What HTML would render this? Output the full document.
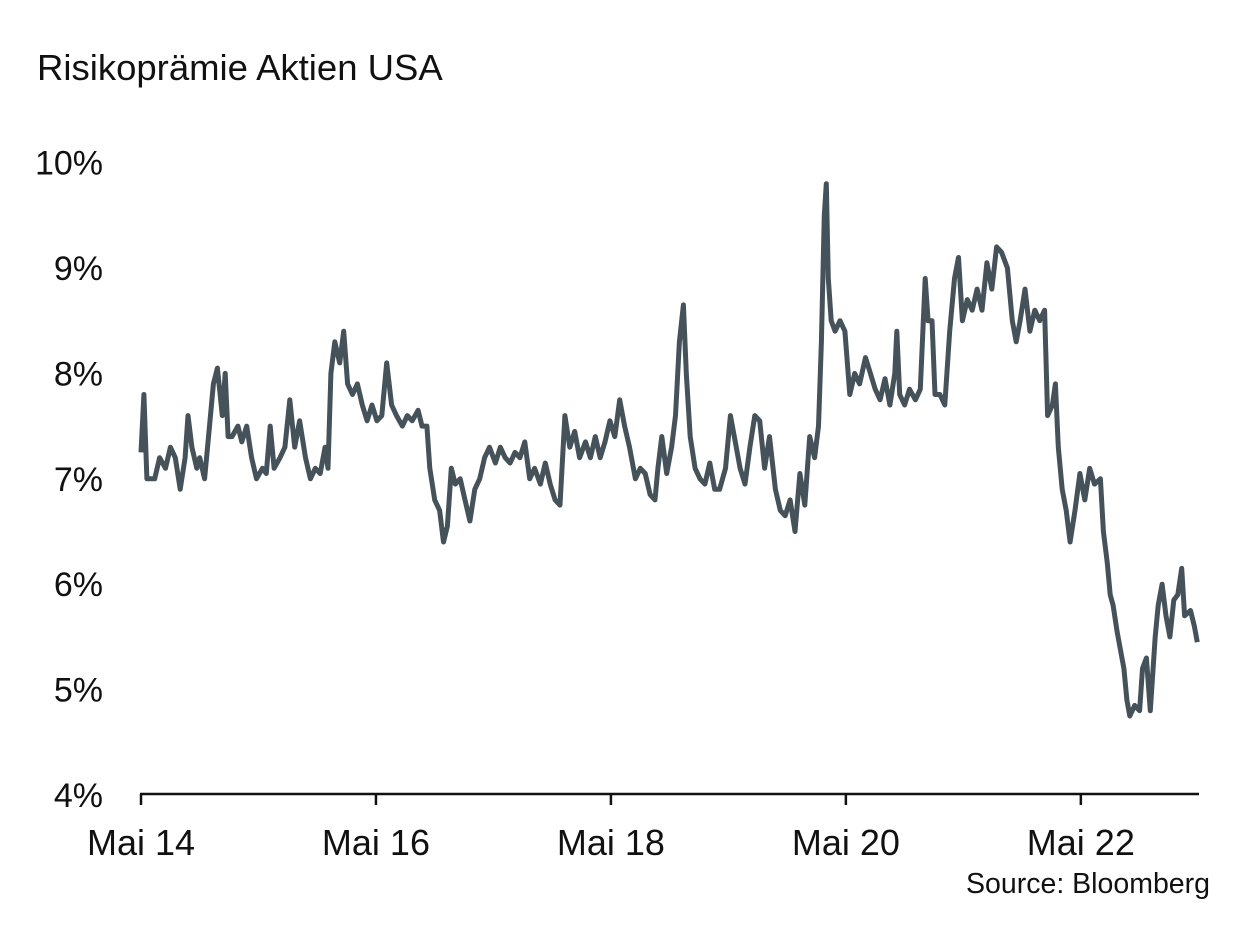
<!DOCTYPE html>
<html><head><meta charset="utf-8"><style>
body{margin:0;background:#fff;}
svg{display:block;font-family:"Liberation Sans",Arial,sans-serif;}
</style></head><body>
<svg id="chart" width="1249" height="949">
<text x="37" y="80" font-size="36.5" fill="#111">Risikoprämie Aktien USA</text>
<text x="1210" y="893" font-size="28.5" fill="#111" text-anchor="end">Source: Bloomberg</text>
<g id="yaxis"></g>
<g id="xaxis"></g>
<path id="line" fill="none" stroke="#46525a" stroke-width="5" stroke-linejoin="round"></path>
</svg>
<script>
const months=[0,0.3,0.6,1.4,1.9,2.5,3.0,3.5,4.0,4.5,4.8,5.2,5.7,6.0,6.5,7.0,7.4,7.8,8.3,8.6,8.9,9.3,9.9,10.3,10.8,11.3,11.8,12.4,12.8,13.2,13.6,14.2,14.7,15.2,15.7,16.2,16.8,17.3,17.8,18.3,18.8,19.1,19.4,19.8,20.3,20.7,21.1,21.6,22.1,22.6,23.1,23.6,24.1,24.6,25.1,25.6,26.1,26.7,27.2,27.7,28.3,28.7,29.2,29.5,30.0,30.5,30.9,31.3,31.7,32.1,32.6,33.1,33.6,34.1,34.6,35.1,35.6,36.2,36.7,37.2,37.7,38.2,38.7,39.2,39.7,40.2,40.8,41.3,41.8,42.3,42.8,43.3,43.8,44.3,44.8,45.4,45.9,46.4,46.9,47.4,47.9,48.4,48.9,49.4,49.9,50.5,51.0,51.5,52.0,52.5,52.8,53.2,53.7,54.2,54.6,55.0,55.4,55.7,56.1,56.6,57.1,57.6,58.1,58.6,59.1,59.7,60.2,60.7,61.2,61.7,62.2,62.7,63.2,63.7,64.2,64.8,65.3,65.8,66.3,66.8,67.3,67.8,68.3,68.8,69.2,69.5,69.8,70.0,70.2,70.5,70.9,71.4,71.9,72.4,72.9,73.4,74.0,74.5,75.0,75.5,76.0,76.5,77.0,77.2,77.5,78.0,78.5,79.1,79.6,80.1,80.4,80.8,81.1,81.6,82.1,82.6,83.1,83.5,83.9,84.4,84.9,85.4,85.9,86.4,86.9,87.4,87.9,88.5,89.0,89.4,89.8,90.3,90.8,91.3,91.8,92.3,92.6,93.1,93.4,93.7,94.1,94.5,94.9,95.4,95.9,96.4,96.9,97.4,98.0,98.3,98.7,99.0,99.3,99.7,100.0,100.4,100.7,101.0,101.5,102.0,102.3,102.7,103.1,103.6,103.9,104.3,104.7,105.1,105.5,105.9,106.3,106.6,107.2,107.6,107.9];
const values=[7.25,7.8,7.0,7.0,7.2,7.1,7.3,7.2,6.9,7.2,7.6,7.3,7.1,7.2,7.0,7.5,7.9,8.05,7.6,8.0,7.4,7.4,7.5,7.35,7.5,7.2,7.0,7.1,7.05,7.5,7.1,7.2,7.3,7.75,7.3,7.55,7.2,7.0,7.1,7.05,7.3,7.1,8.0,8.3,8.1,8.4,7.9,7.8,7.9,7.7,7.55,7.7,7.55,7.6,8.1,7.7,7.6,7.5,7.6,7.55,7.65,7.5,7.5,7.1,6.8,6.7,6.4,6.55,7.1,6.95,7.0,6.8,6.6,6.9,7.0,7.2,7.3,7.15,7.3,7.2,7.15,7.25,7.2,7.35,7.0,7.1,6.95,7.15,6.95,6.8,6.75,7.6,7.3,7.45,7.2,7.35,7.2,7.4,7.2,7.35,7.55,7.4,7.75,7.5,7.3,7.0,7.1,7.05,6.85,6.8,7.1,7.4,7.05,7.3,7.6,8.3,8.65,8.0,7.4,7.1,7.0,6.95,7.15,6.9,6.9,7.1,7.6,7.35,7.1,6.95,7.3,7.6,7.55,7.1,7.4,6.9,6.7,6.65,6.8,6.5,7.05,6.75,7.4,7.2,7.5,8.3,9.5,9.8,8.9,8.5,8.4,8.5,8.4,7.8,8.0,7.9,8.15,8.0,7.85,7.75,7.95,7.7,8.0,8.4,7.8,7.7,7.85,7.75,7.85,8.9,8.5,8.5,7.8,7.8,7.7,8.4,8.9,9.1,8.5,8.7,8.6,8.8,8.6,9.05,8.8,9.2,9.15,9.0,8.5,8.3,8.5,8.8,8.4,8.6,8.5,8.6,7.6,7.7,7.9,7.3,6.9,6.7,6.4,6.7,7.05,6.8,7.1,6.95,7.0,6.5,6.2,5.9,5.8,5.55,5.4,5.2,4.9,4.75,4.85,4.8,5.2,5.3,4.8,5.5,5.8,6.0,5.7,5.5,5.85,5.9,6.15,5.7,5.75,5.6,5.45];
const yTicks=[4,5,6,7,8,9,10];
const xTickMonths=[0,24,48,72,96];
const xTickLabels=["Mai 14","Mai 16","Mai 18","Mai 20","Mai 22"];

const X0=141,PXM=9.79,Y4=795,PXV=105.4;
const sx=m=>X0+m*PXM;
const sy=v=>Y4-(v-4)*PXV;
const NS="http://www.w3.org/2000/svg";
const ya=document.getElementById('yaxis');
yTicks.forEach(t=>{
  const tx=document.createElementNS(NS,'text');
  tx.setAttribute('x',103);tx.setAttribute('y',sy(t)+12);
  tx.setAttribute('text-anchor','end');tx.setAttribute('font-size','34');tx.setAttribute('fill','#111');
  tx.textContent=t+'%';
  
  
  ya.appendChild(tx);
});
const xa=document.getElementById('xaxis');
const ax=document.createElementNS(NS,'line');
ax.setAttribute('x1',X0-1);ax.setAttribute('x2',1199);ax.setAttribute('y1',794);ax.setAttribute('y2',794);
ax.setAttribute('stroke','#111');ax.setAttribute('stroke-width','2.5');


xa.appendChild(ax);
xTickMonths.forEach((m,i)=>{
  const l=document.createElementNS(NS,'line');
  l.setAttribute('x1',sx(m));l.setAttribute('x2',sx(m));l.setAttribute('y1',794);l.setAttribute('y2',805);
  l.setAttribute('stroke','#111');l.setAttribute('stroke-width','2.5');
  
  
  xa.appendChild(l);
  const tx=document.createElementNS(NS,'text');
  tx.setAttribute('x',sx(m));tx.setAttribute('y',855);
  tx.setAttribute('text-anchor','middle');tx.setAttribute('font-size','36');tx.setAttribute('fill','#111');
  tx.textContent=xTickLabels[i];
  
  
  xa.appendChild(tx);
});
document.getElementById('line').setAttribute('d',months.map((m,i)=>(i?'L':'M')+sx(m).toFixed(1)+','+sy(values[i]).toFixed(1)).join(''));
</script>
</body></html>
